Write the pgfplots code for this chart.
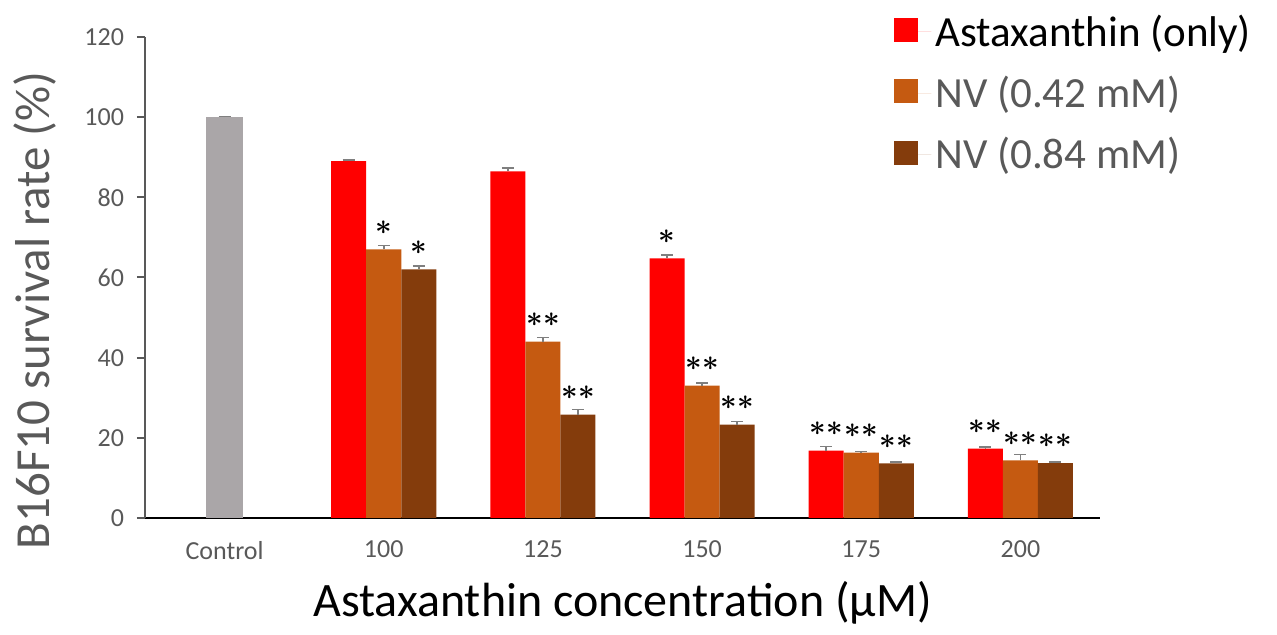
\documentclass[border=0pt]{standalone}
\usepackage{pgfplots}
\pgfplotsset{compat=1.18}
\usepackage{pgfplotstable}
\usepackage{fontspec}
\setmainfont{Carlito}
\definecolor{cgray}{HTML}{AAA6A8}
\definecolor{cred}{HTML}{FF0000}
\definecolor{corange}{HTML}{C55A11}
\definecolor{cbrown}{HTML}{843C0C}
\definecolor{ctext}{HTML}{595959}
\definecolor{cerr}{HTML}{7F7F7F}
\pgfplotstableread{
x r er sr o eo so b eb sb
1 89.0 0.3 N 67.0 1.0 A 62.0 0.8 A
2 86.5 0.8 N 44.0 1.0 B 25.8 1.3 B
3 64.8 0.8 A 33.0 0.7 B 23.3 0.8 B
4 16.8 1.0 B 16.3 0.3 B 13.6 0.3 B
5 17.3 0.4 B 14.4 1.4 B 13.7 0.2 B
}\data
\pgfplotstableread{
x y e
0 100 0.2
}\ctrl
\DeclareRobustCommand\starN{}
\DeclareRobustCommand\starA{{\boldmath${\ast}$}}
\DeclareRobustCommand\starB{{\boldmath${\ast}\mkern0.3mu{\ast}$}}
\begin{document}
\begin{tikzpicture}
\useasboundingbox (-72.5pt,-58.5pt) rectangle (566pt,259pt);
\begin{axis}[
  scale only axis, width=477.5pt, height=240.5pt,
  xmin=-0.5, xmax=5.5, ymin=0, ymax=120,
  ybar, bar width=0.22,
  axis lines*=left,
  x axis line style={black, line width=1pt},
  y axis line style={ctext, line width=1.2pt},
  xtick={0,...,5}, xticklabels={Control,100,125,150,175,200},
  ytick={0,20,...,120},
  xtick style={draw=none},
  ytick style={ctext, line width=1pt},
  tick align=outside, major tick length=4pt,
  /pgf/number format/assume math mode=true,
  tick label style={font=\fontsize{13}{15}\selectfont, text=ctext},
  xticklabel style={yshift=-4pt},
  yticklabel style={xshift=-3pt},
  xlabel={Astaxanthin concentration (μM)},
  ylabel={B16F10 survival rate (\%)},
  xlabel style={font=\fontsize{24}{28}\selectfont, at={(axis description cs:0.5,-0.177)}, anchor=center},
  ylabel style={font=\fontsize{24.5}{28}\selectfont, text=ctext, at={(axis description cs:-0.115,0.432)}, anchor=center},
  legend style={at={(axis description cs:0.778,1.064)}, anchor=north west, draw=none, fill=none,
    font=\fontsize{21.5}{25}\selectfont, row sep=9.5pt},
  legend cell align=left,
  legend image code/.code={\fill[#1,draw=none] (0pt,-5pt) rectangle (12pt,7pt); \path (0pt,0pt) -- (18.5pt,0pt);},
  error bars/y dir=plus, error bars/y explicit,
  error bars/error mark options={rotate=90, mark size=3pt, line width=0.8pt, cerr},
  error bars/error bar style={line width=0.8pt, cerr},
  clip=false,
]
\addplot[fill=cgray, draw=none, bar shift=0, bar width=0.23, forget plot]
  table[x=x, y=y, y error=e] {\ctrl};
\addplot[fill=cred, draw=none, bar shift=-0.22,
  point meta=explicit symbolic,
  nodes near coords={\csname star\pgfplotspointmeta\endcsname},
  nodes near coords style={font=\fontsize{13.5}{16}\selectfont, anchor=center, yshift=11pt, text=black}]
  table[x=x, y=r, y error=er, meta=sr] {\data};
\addlegendentry{\textcolor{black}{Astaxanthin (only)}}
\addplot[fill=corange, draw=none, bar shift=0,
  point meta=explicit symbolic,
  nodes near coords={\csname star\pgfplotspointmeta\endcsname},
  nodes near coords style={font=\fontsize{13.5}{16}\selectfont, anchor=center, yshift=11pt, text=black}]
  table[x=x, y=o, y error=eo, meta=so] {\data};
\addlegendentry{\textcolor{ctext}{NV (0.42 mM)}}
\addplot[fill=cbrown, draw=none, bar shift=0.22,
  point meta=explicit symbolic,
  nodes near coords={\csname star\pgfplotspointmeta\endcsname},
  nodes near coords style={font=\fontsize{13.5}{16}\selectfont, anchor=center, yshift=11pt, text=black}]
  table[x=x, y=b, y error=eb, meta=sb] {\data};
\addlegendentry{\textcolor{ctext}{NV (0.84 mM)}}
\end{axis}
\end{tikzpicture}
\end{document}
